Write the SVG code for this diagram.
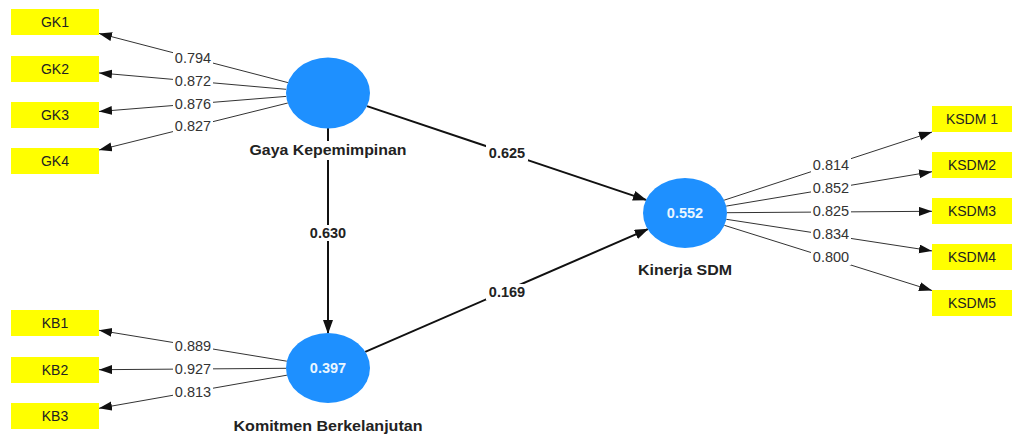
<svg xmlns="http://www.w3.org/2000/svg" width="1014" height="436" viewBox="0 0 1014 436">
<style>
.ind{fill:#ffff00}
.indt{font-family:"Liberation Sans",Arial,sans-serif;font-size:14px;fill:#222;text-anchor:middle}
.lv{fill:#1e90ff}
.lvt{font-family:"Liberation Sans",Arial,sans-serif;font-size:14.5px;font-weight:bold;fill:#eaf6ff;text-anchor:middle}
.lvn{font-family:"Liberation Sans",Arial,sans-serif;font-size:15px;font-weight:bold;fill:#222;text-anchor:middle}
.thin{stroke:#333;stroke-width:1;fill:none;marker-end:url(#ah)}
.thick{stroke:#111;stroke-width:2;fill:none;marker-end:url(#ahb)}
.bg{fill:#fff}
.wl{font-family:"Liberation Sans",Arial,sans-serif;font-size:14.5px;fill:#333;text-anchor:middle}
.pl{font-family:"Liberation Sans",Arial,sans-serif;font-size:14.5px;font-weight:bold;fill:#222;text-anchor:middle}
</style>
<defs>
<marker id="ah" markerUnits="userSpaceOnUse" markerWidth="13" markerHeight="10" refX="13" refY="4.5" orient="auto"><path d="M0,0 L13,4.5 L0,9 z" fill="#111"/></marker>
<marker id="ahb" markerUnits="userSpaceOnUse" markerWidth="14" markerHeight="11" refX="13" refY="5" orient="auto"><path d="M0,0 L14,5 L0,10 z" fill="#111"/></marker>
</defs>
<rect width="1014" height="436" fill="#fff"/>
<g id="connectors">
<path class="thin" d="M287.9,82.6 L99,33.4"/>
<path class="thin" d="M286.2,89.3 L99,72.9"/>
<path class="thin" d="M286.2,96.4 L99,111.5"/>
<path class="thin" d="M287.8,103 L99,150"/>
<path class="thin" d="M286.8,361.2 L99,330.3"/>
<path class="thin" d="M286,368.3 L99,369.7"/>
<path class="thin" d="M286.9,375.2 L99,408.3"/>
<path class="thin" d="M724.1,200.2 L932,132.1"/>
<path class="thin" d="M726.2,206.1 L932,171.7"/>
<path class="thin" d="M727,212.7 L932,211.3"/>
<path class="thin" d="M726.3,219.3 L932,250.9"/>
<path class="thin" d="M724.3,225.3 L932,290.5"/>
<path class="thick" d="M367,106.1 L646,199.9"/>
<path class="thick" d="M328,128 L328,333"/>
<path class="thick" d="M365.2,351.8 L647.8,229.2"/>
<g id="weights">
<rect class="bg" x="173" y="51" width="40" height="15"/><text class="wl" x="193" y="63">0.794</text>
<rect class="bg" x="173" y="74" width="40" height="15"/><text class="wl" x="193" y="86">0.872</text>
<rect class="bg" x="173" y="97" width="40" height="15"/><text class="wl" x="193" y="109">0.876</text>
<rect class="bg" x="173" y="119" width="40" height="15"/><text class="wl" x="193" y="131">0.827</text>
<rect class="bg" x="173" y="339" width="40" height="15"/><text class="wl" x="193" y="351">0.889</text>
<rect class="bg" x="173" y="362" width="40" height="15"/><text class="wl" x="193" y="374">0.927</text>
<rect class="bg" x="173" y="385" width="40" height="15"/><text class="wl" x="193" y="397">0.813</text>
<rect class="bg" x="811" y="158" width="40" height="15"/><text class="wl" x="831" y="170">0.814</text>
<rect class="bg" x="811" y="181" width="40" height="15"/><text class="wl" x="831" y="193">0.852</text>
<rect class="bg" x="811" y="204" width="40" height="15"/><text class="wl" x="831" y="216">0.825</text>
<rect class="bg" x="811" y="227" width="40" height="15"/><text class="wl" x="831" y="239">0.834</text>
<rect class="bg" x="811" y="250" width="40" height="15"/><text class="wl" x="831" y="262">0.800</text>
</g>
<g id="paths">
<rect class="bg" x="486" y="145" width="42" height="16"/><text class="pl" x="507" y="158">0.625</text>
<rect class="bg" x="307" y="225" width="42" height="16"/><text class="pl" x="328" y="238">0.630</text>
<rect class="bg" x="486" y="284" width="42" height="16"/><text class="pl" x="507" y="297">0.169</text>
</g>
</g>
<g id="GK1"><rect class="ind" x="11" y="9" width="88" height="26"/><text class="indt" x="55" y="27">GK1</text></g>
<g id="GK2"><rect class="ind" x="11" y="56" width="88" height="26"/><text class="indt" x="55" y="74">GK2</text></g>
<g id="GK3"><rect class="ind" x="11" y="102" width="88" height="26"/><text class="indt" x="55" y="120">GK3</text></g>
<g id="GK4"><rect class="ind" x="11" y="148" width="88" height="26"/><text class="indt" x="55" y="166">GK4</text></g>
<g id="KB1"><rect class="ind" x="11" y="310" width="88" height="26"/><text class="indt" x="55" y="328">KB1</text></g>
<g id="KB2"><rect class="ind" x="11" y="357" width="88" height="26"/><text class="indt" x="55" y="375">KB2</text></g>
<g id="KB3"><rect class="ind" x="11" y="403" width="88" height="26"/><text class="indt" x="55" y="421">KB3</text></g>
<g id="KSDM1"><rect class="ind" x="932" y="106" width="80" height="26"/><text class="indt" x="972" y="124">KSDM 1</text></g>
<g id="KSDM2"><rect class="ind" x="932" y="152" width="80" height="26"/><text class="indt" x="972" y="170">KSDM2</text></g>
<g id="KSDM3"><rect class="ind" x="932" y="198" width="80" height="26"/><text class="indt" x="972" y="216">KSDM3</text></g>
<g id="KSDM4"><rect class="ind" x="932" y="244" width="80" height="26"/><text class="indt" x="972" y="262">KSDM4</text></g>
<g id="KSDM5"><rect class="ind" x="932" y="290" width="80" height="26"/><text class="indt" x="972" y="308">KSDM5</text></g>
<g id="GayaKepemimpinan">
<ellipse class="lv" cx="328" cy="93" rx="42" ry="35.5"/>
<rect class="bg" x="248" y="141" width="160" height="19"/>
<text class="lvn" x="328" y="155" textLength="157" lengthAdjust="spacingAndGlyphs">Gaya Kepemimpinan</text>
</g>
<g id="KomitmenBerkelanjutan">
<ellipse class="lv" cx="328" cy="368" rx="42" ry="35"/>
<text class="lvt" x="328" y="373">0.397</text>
<text class="lvn" x="328" y="431" textLength="189" lengthAdjust="spacingAndGlyphs">Komitmen Berkelanjutan</text>
</g>
<g id="KinerjaSDM">
<ellipse class="lv" cx="685" cy="213" rx="42" ry="35"/>
<text class="lvt" x="685" y="218">0.552</text>
<text class="lvn" x="685" y="275" textLength="94" lengthAdjust="spacingAndGlyphs">Kinerja SDM</text>
</g>
</svg>
